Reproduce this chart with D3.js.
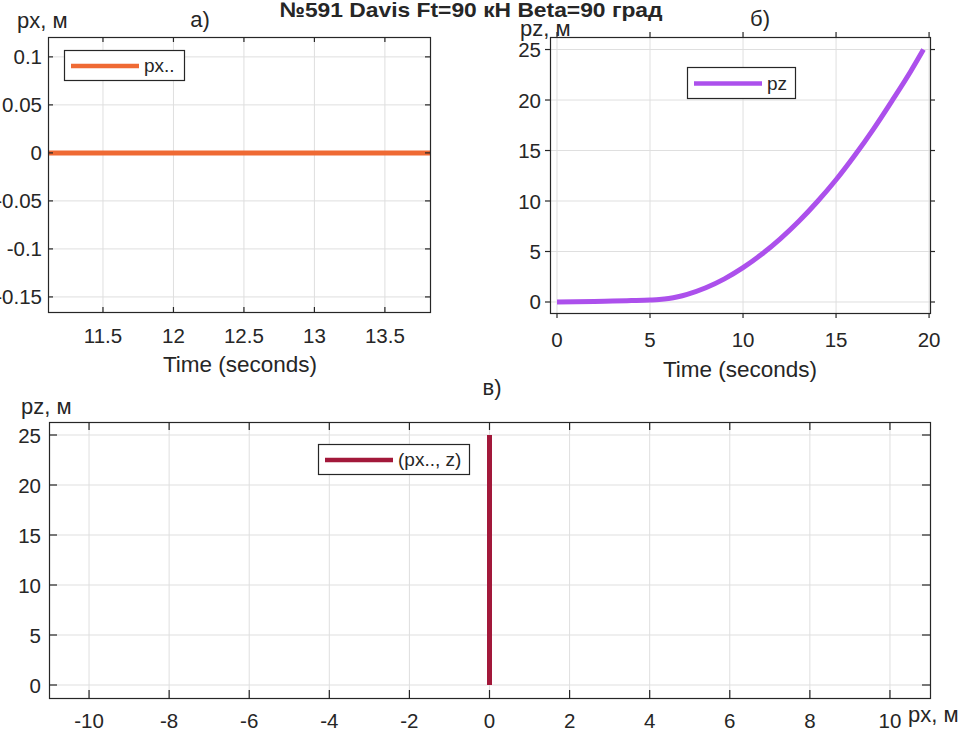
<!DOCTYPE html>
<html><head><meta charset="utf-8">
<script src="https://cdn.jsdelivr.net/npm/d3@7/dist/d3.min.js"></script>
<style>body{margin:0;background:#fff}svg{display:block}text{font-family:"Liberation Sans",Arial,sans-serif;fill:#262626}</style>
</head><body>
<script>
// ---- data ----
const titleText = "№591 Davis Ft=90 кН Beta=90 град";
// panel a: px vs time
const pxTime = [11.11, 13.82];
const pxVals = [0, 0];
const aXTicks = [11.5, 12, 12.5, 13, 13.5];
const aXLabels = ["11.5", "12", "12.5", "13", "13.5"];
const aYTicks = [-0.15, -0.1, -0.05, 0, 0.05, 0.1];
const aYLabels = ["-0.15", "-0.1", "-0.05", "0", "0.05", "0.1"];
// panel b: pz vs time
const pzTime = [0, 1, 2, 3, 4, 5, 5.5, 6, 6.5, 7, 8, 9, 10, 11, 12, 13, 14, 15, 16, 17, 18, 19, 19.7];
const pzVals = [0, 0.02, 0.05, 0.09, 0.14, 0.2, 0.25, 0.35, 0.52, 0.76, 1.41, 2.29, 3.4, 4.72, 6.25, 7.99, 9.95, 12.1, 14.5, 17.1, 19.9, 22.8, 25.0];
const bXTicks = [0, 5, 10, 15, 20];
const bXLabels = ["0", "5", "10", "15", "20"];
const bYTicks = [0, 5, 10, 15, 20, 25];
const bYLabels = ["0", "5", "10", "15", "20", "25"];
// panel c: pz vs px
const trajX = [0, 0];
const trajZ = [0, 25];
const cXTicks = [-10, -8, -6, -4, -2, 0, 2, 4, 6, 8, 10];
const cXLabels = ["-10", "-8", "-6", "-4", "-2", "0", "2", "4", "6", "8", "10"];
const cYTicks = [0, 5, 10, 15, 20, 25];
const cYLabels = ["0", "5", "10", "15", "20", "25"];

const W = 980, H = 736;
const svg = d3.select("body").append("svg").attr("width", W).attr("height", H);
const FS = 20.5;
const AX = "#262626";

function panel(o) {
  const x = d3.scaleLinear().domain(o.xd).range([o.l, o.r]);
  const y = d3.scaleLinear().domain(o.yd).range([o.b, o.t]);
  const g = svg.append("g");
  // grid
  g.selectAll(".gx").data(o.xt).enter().append("line")
    .attr("x1", d => x(d)).attr("x2", d => x(d)).attr("y1", o.t).attr("y2", o.b)
    .attr("stroke", "#dfdfdf").attr("stroke-width", 1);
  g.selectAll(".gy").data(o.yt).enter().append("line")
    .attr("y1", d => y(d)).attr("y2", d => y(d)).attr("x1", o.l).attr("x2", o.r)
    .attr("stroke", "#dfdfdf").attr("stroke-width", 1);
  // data line
  const pts = o.xs.map((v, i) => [v, o.ys[i]]);
  const lineGen = o.vertical ? d3.line().x(d => x(d[0])).y(d => y(d[1]))
                             : d3.line().x(d => x(d[0])).y(d => y(d[1])).curve(d3.curveMonotoneX);
  g.append("path").attr("d", lineGen(pts)).attr("fill", "none")
    .attr("stroke", o.color).attr("stroke-width", o.lw || 4.5);
  // box
  g.append("rect").attr("x", o.l + 0.5).attr("y", o.t + 0.5)
    .attr("width", o.r - o.l).attr("height", o.b - o.t)
    .attr("fill", "none").attr("stroke", AX).attr("stroke-width", 1.2);
  // ticks
  const tl = o.tl, dir = o.out ? -1 : 1;
  o.xt.forEach(d => {
    g.append("line").attr("x1", x(d)).attr("x2", x(d)).attr("y1", o.b).attr("y2", o.b - dir * tl)
      .attr("stroke", AX).attr("stroke-width", 1.2);
    g.append("line").attr("x1", x(d)).attr("x2", x(d)).attr("y1", o.t).attr("y2", o.t + dir * tl)
      .attr("stroke", AX).attr("stroke-width", 1.2);
  });
  o.yt.forEach(d => {
    g.append("line").attr("y1", y(d)).attr("y2", y(d)).attr("x1", o.l).attr("x2", o.l + dir * tl)
      .attr("stroke", AX).attr("stroke-width", 1.2);
    g.append("line").attr("y1", y(d)).attr("y2", y(d)).attr("x1", o.r).attr("x2", o.r - dir * tl)
      .attr("stroke", AX).attr("stroke-width", 1.2);
  });
  // tick labels
  g.selectAll(".xl").data(o.xt).enter().append("text")
    .attr("x", d => x(d)).attr("y", o.xly).attr("text-anchor", "middle")
    .attr("font-size", FS).text((d, i) => o.xl[i]);
  g.selectAll(".yl").data(o.yt).enter().append("text")
    .attr("x", o.ylx).attr("y", d => y(d) + 7.5).attr("text-anchor", "end")
    .attr("font-size", FS).text((d, i) => o.yl[i]);
  // legend
  const L = o.leg;
  g.append("rect").attr("x", L.x + 0.5).attr("y", L.y + 0.5).attr("width", L.w).attr("height", L.h)
    .attr("fill", "#fff").attr("stroke", AX).attr("stroke-width", 1.2);
  g.append("line").attr("x1", L.x + 7).attr("x2", L.x + 75).attr("y1", L.y + L.h / 2 + 1).attr("y2", L.y + L.h / 2 + 1)
    .attr("stroke", o.color).attr("stroke-width", 4.5);
  g.append("text").attr("x", L.x + 80).attr("y", L.y + L.h / 2 + 7).attr("font-size", 19).text(L.text);
  return {x, y};
}

panel({l: 48, r: 430, t: 37, b: 312, xd: [11.11, 13.82], yd: [-0.1657, 0.1207],
  xt: aXTicks, xl: aXLabels, yt: aYTicks, yl: aYLabels, xs: pxTime, ys: pxVals,
  color: "#ef6a34", tl: 5, out: false, xly: 343, ylx: 42, lw: 5,
  leg: {x: 64, y: 50, w: 120, h: 30, text: "px.."}});

panel({l: 550, r: 930, t: 37, b: 313, xd: [-0.376, 20.05], yd: [-1.09, 26.24],
  xt: bXTicks, xl: bXLabels, yt: bYTicks, yl: bYLabels, xs: pzTime, ys: pzVals,
  color: "#ac50ec", tl: 5, out: true, xly: 347, ylx: 541, lw: 5,
  leg: {x: 687, y: 67, w: 108, h: 31, text: "pz"}});

panel({l: 49, r: 930, t: 422, b: 698, xd: [-11, 11], yd: [-1.3, 26.3],
  xt: cXTicks, xl: cXLabels, yt: cYTicks, yl: cYLabels, xs: trajX, ys: trajZ,
  color: "#a2183a", tl: 8, out: false, xly: 728, ylx: 41, lw: 5, vertical: true,
  leg: {x: 318, y: 444, w: 151, h: 30, text: "(px.., z)"}});

// text labels
svg.append("text").attr("x", 471).attr("y", 17).attr("text-anchor", "middle")
  .attr("font-size", 21).attr("font-weight", "bold")
  .attr("textLength", 383).attr("lengthAdjust", "spacingAndGlyphs").text(titleText);
svg.append("text").attr("x", 200).attr("y", 27).attr("text-anchor", "middle").attr("font-size", 22).text("а)");
svg.append("text").attr("x", 760).attr("y", 26).attr("text-anchor", "middle").attr("font-size", 22).text("б)");
svg.append("text").attr("x", 492).attr("y", 395).attr("text-anchor", "middle").attr("font-size", 22).text("в)");
svg.append("text").attr("x", 17).attr("y", 28).attr("font-size", 22).text("px, м");
svg.append("text").attr("x", 520).attr("y", 36).attr("font-size", 22).text("pz, м");
svg.append("text").attr("x", 21).attr("y", 414).attr("font-size", 22).text("pz, м");
svg.append("text").attr("x", 908).attr("y", 722).attr("font-size", 22).text("px, м");
svg.append("text").attr("x", 240).attr("y", 372).attr("text-anchor", "middle").attr("font-size", 22.5).text("Time (seconds)");
svg.append("text").attr("x", 740).attr("y", 377).attr("text-anchor", "middle").attr("font-size", 22.5).text("Time (seconds)");
</script>
</body></html>
